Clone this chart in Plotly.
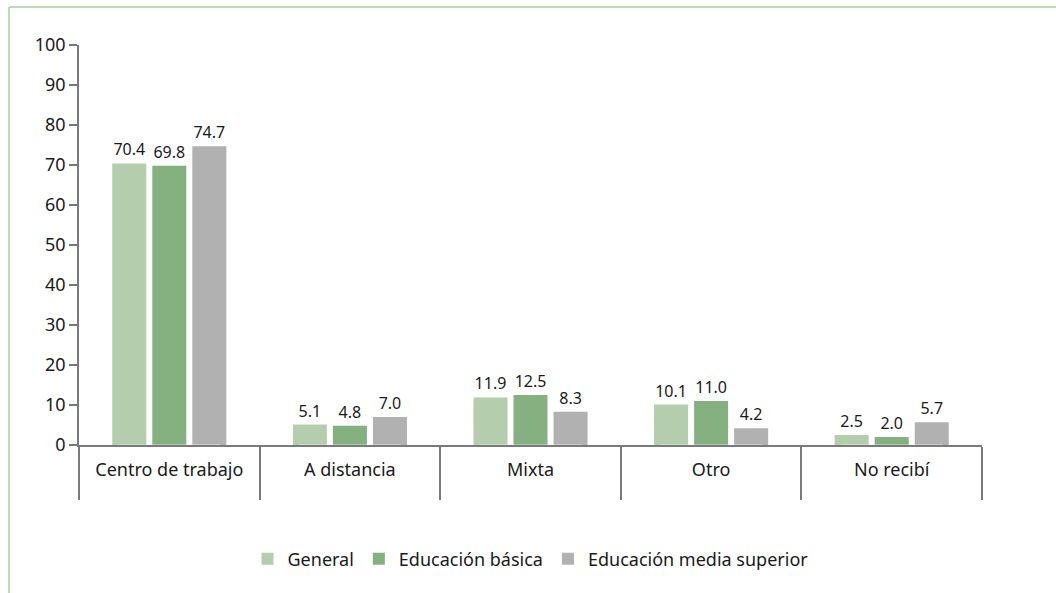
import plotly.graph_objects as go

# Modalidad de capacitación recibida (%)
categorias = ["Centro de trabajo", "A distancia", "Mixta", "Otro", "No recibí"]
general = [70.4, 5.1, 11.9, 10.1, 2.5]
basica = [69.8, 4.8, 12.5, 11.0, 2.0]
media_superior = [74.7, 7.0, 8.3, 4.2, 5.7]

series = [
    ("General", general, "#b4cdac"),
    ("Educación básica", basica, "#85b07f"),
    ("Educación media superior", media_superior, "#b1b1b1"),
]

FONT = "Noto Sans"
TEXT = "#1a1a1a"
AXIS = "#7a7a7a"

fig = go.Figure()

for nombre, valores, color in series:
    fig.add_trace(go.Bar(
        x=categorias,
        y=valores,
        name=nombre,
        marker_color=color,
        marker_line_width=0,
        text=[f"{v:.1f}" for v in valores],
        textposition="outside",
        cliponaxis=False,
        textfont=dict(family=FONT, size=16, color=TEXT),
    ))

# invisible trace on a second x axis, only to carry the category labels
fig.add_trace(go.Bar(
    x=categorias,
    y=[0] * len(categorias),
    xaxis="x2",
    showlegend=False,
    hoverinfo="skip",
    marker_color="rgba(0,0,0,0)",
))

fig.update_layout(
    width=1056,
    height=593,
    plot_bgcolor="white",
    paper_bgcolor="white",
    font=dict(family=FONT, size=18, color=TEXT),
    barmode="group",
    bargap=0.335,
    bargroupgap=0.15,
    margin=dict(l=79, r=74, t=45, b=148),
    showlegend=True,
    legend=dict(
        orientation="h",
        x=0.5,
        xanchor="center",
        y=-0.285,
        yanchor="middle",
        font=dict(family=FONT, size=18, color=TEXT),
        itemwidth=30,
        traceorder="normal",
    ),
    xaxis=dict(
        type="category",
        showline=True,
        linecolor=AXIS,
        linewidth=1.5,
        ticks="outside",
        tickson="boundaries",
        ticklen=53,
        tickcolor=AXIS,
        tickwidth=1.5,
        showticklabels=False,
        showgrid=False,
    ),
    xaxis2=dict(
        type="category",
        overlaying="x",
        side="bottom",
        anchor="y",
        matches="x",
        ticks="",
        ticklen=0,
        showline=False,
        showgrid=False,
        tickfont=dict(family=FONT, size=18, color=TEXT),
        ticklabelstandoff=12,
    ),
    yaxis=dict(
        range=[0, 100],
        dtick=10,
        showline=True,
        linecolor=AXIS,
        linewidth=1.5,
        ticks="outside",
        ticklen=8,
        tickcolor=AXIS,
        tickwidth=1.5,
        showgrid=False,
        zeroline=False,
        tickfont=dict(family=FONT, size=18, color=TEXT),
    ),
    shapes=[
        # thin green frame at top and left of the figure
        dict(type="line", xref="paper", yref="paper", x0=-0.0775, x1=1.09,
             y0=1.095, y1=1.095, line=dict(color="#a9cea0", width=1.5)),
        dict(type="line", xref="paper", yref="paper", x0=-0.0775, x1=-0.0775,
             y0=1.095, y1=-0.38, line=dict(color="#a9cea0", width=1.5)),
    ],
)

fig.write_html(
    "out.html",
    config={"displayModeBar": False},
    post_script="document.body.style.margin='0';",
)
